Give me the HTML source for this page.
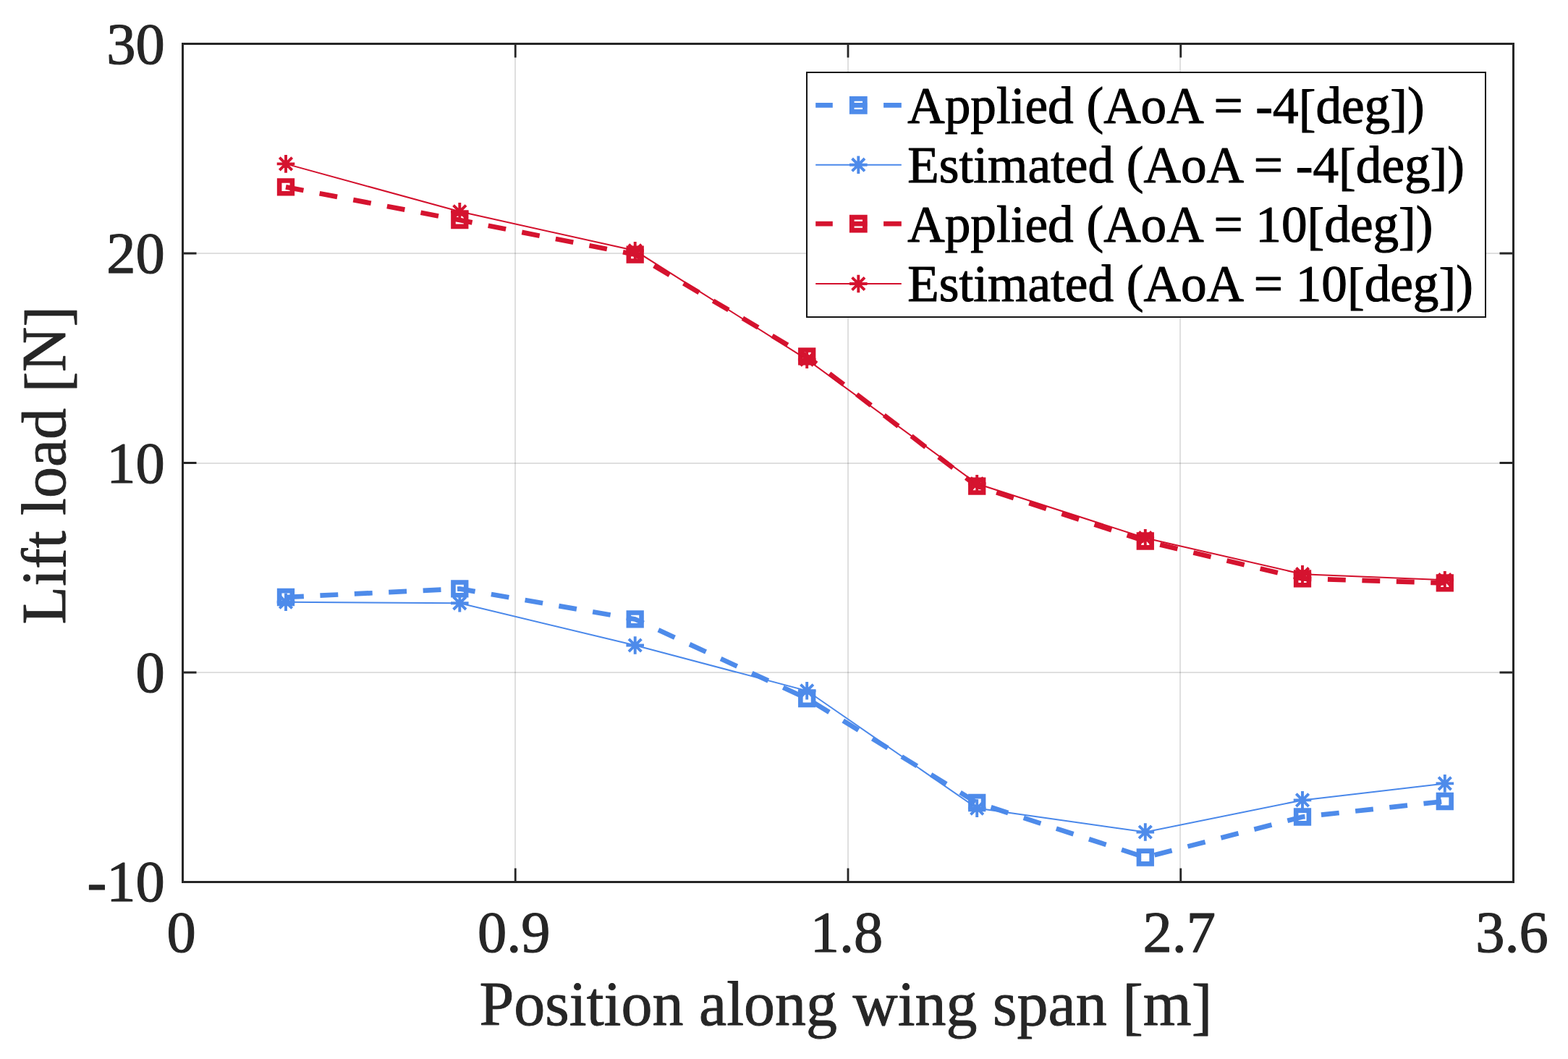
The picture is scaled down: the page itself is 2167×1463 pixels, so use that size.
<!DOCTYPE html><html><head><meta charset="utf-8"><title>Lift load</title><style>html,body{margin:0;padding:0;background:#fff;width:2167px;height:1463px;overflow:hidden;}svg{display:block;}text{font-family:'Liberation Serif','Times New Roman',serif;stroke-linejoin:round;}</style></head><body>
<svg width="2167" height="1463" viewBox="0 0 2167 1463">
<rect width="2167" height="1463" fill="#fff"/>
<path d="M712.00 60.50V1218.50M1172.00 60.50V1218.50M1631.00 60.50V1218.50" stroke="#262626" stroke-opacity="0.15" stroke-width="2" fill="none"/>
<path d="M252.50 929.00H2091.50M252.50 640.00H2091.50M252.50 350.00H2091.50" stroke="#262626" stroke-opacity="0.15" stroke-width="2" fill="none"/>
<path d="M252.50 1218.50V1199.50M252.50 60.50V79.50M712.25 1218.50V1199.50M712.25 60.50V79.50M1172.00 1218.50V1199.50M1172.00 60.50V79.50M1631.75 1218.50V1199.50M1631.75 60.50V79.50M2091.50 1218.50V1199.50M2091.50 60.50V79.50M252.50 1218.50H271.50M2091.50 1218.50H2072.50M252.50 929.00H271.50M2091.50 929.00H2072.50M252.50 639.50H271.50M2091.50 639.50H2072.50M252.50 350.00H271.50M2091.50 350.00H2072.50M252.50 60.50H271.50M2091.50 60.50H2072.50" stroke="#262626" stroke-width="2.8" fill="none"/>
<g clip-path="url(#clip)">
<defs><clipPath id="clip"><rect x="252.50" y="60.50" width="1839.00" height="1158.00"/></clipPath></defs>
<polyline points="395.00,825.00 635.30,813.40 877.70,855.40 1115.20,965.00 1350.20,1109.00 1582.80,1184.50 1800.00,1128.50 1996.80,1107.00" stroke="#4E8BEA" stroke-width="6.7" fill="none" stroke-dasharray="24.9 22.56"/>
<path d="M386.15 816.15h17.7v17.7h-17.7zM626.45 804.55h17.7v17.7h-17.7zM868.85 846.55h17.7v17.7h-17.7zM1106.35 956.15h17.7v17.7h-17.7zM1341.35 1100.15h17.7v17.7h-17.7zM1573.95 1175.65h17.7v17.7h-17.7zM1791.15 1119.65h17.7v17.7h-17.7zM1987.95 1098.15h17.7v17.7h-17.7z" stroke="#4E8BEA" stroke-width="6.6" fill="none" stroke-linejoin="miter"/>
<polyline points="395.00,831.70 635.30,833.30 877.70,891.50 1115.20,954.30 1350.20,1116.60 1582.80,1149.50 1800.00,1105.40 1996.80,1082.40" stroke="#4A88EA" stroke-width="2" fill="none"/>
<path d="M382.70 831.70H407.30M395.00 819.40V844.00M386.30 823.00L403.70 840.40M386.30 840.40L403.70 823.00M623.00 833.30H647.60M635.30 821.00V845.60M626.60 824.60L644.00 842.00M626.60 842.00L644.00 824.60M865.40 891.50H890.00M877.70 879.20V903.80M869.00 882.80L886.40 900.20M869.00 900.20L886.40 882.80M1102.90 954.30H1127.50M1115.20 942.00V966.60M1106.50 945.60L1123.90 963.00M1106.50 963.00L1123.90 945.60M1337.90 1116.60H1362.50M1350.20 1104.30V1128.90M1341.50 1107.90L1358.90 1125.30M1341.50 1125.30L1358.90 1107.90M1570.50 1149.50H1595.10M1582.80 1137.20V1161.80M1574.10 1140.80L1591.50 1158.20M1574.10 1158.20L1591.50 1140.80M1787.70 1105.40H1812.30M1800.00 1093.10V1117.70M1791.30 1096.70L1808.70 1114.10M1791.30 1114.10L1808.70 1096.70M1984.50 1082.40H2009.10M1996.80 1070.10V1094.70M1988.10 1073.70L2005.50 1091.10M1988.10 1091.10L2005.50 1073.70" stroke="#4E8BEA" stroke-width="3.9" fill="none"/>
<polyline points="395.00,258.40 635.30,304.00 877.70,351.60 1115.20,492.40 1350.20,671.60 1582.80,747.50 1800.00,799.40 1996.80,805.40" stroke="#D5132F" stroke-width="6.7" fill="none" stroke-dasharray="24.9 22.56"/>
<path d="M386.15 249.55h17.7v17.7h-17.7zM626.45 295.15h17.7v17.7h-17.7zM868.85 342.75h17.7v17.7h-17.7zM1106.35 483.55h17.7v17.7h-17.7zM1341.35 662.75h17.7v17.7h-17.7zM1573.95 738.65h17.7v17.7h-17.7zM1791.15 790.55h17.7v17.7h-17.7zM1987.95 796.55h17.7v17.7h-17.7z" stroke="#D5132F" stroke-width="6.6" fill="none" stroke-linejoin="miter"/>
<polyline points="395.00,226.40 635.30,292.30 877.70,346.30 1115.20,496.60 1350.20,668.30 1582.80,743.20 1800.00,793.20 1996.80,801.20" stroke="#D3102C" stroke-width="2" fill="none"/>
<path d="M382.70 226.40H407.30M395.00 214.10V238.70M386.30 217.70L403.70 235.10M386.30 235.10L403.70 217.70M623.00 292.30H647.60M635.30 280.00V304.60M626.60 283.60L644.00 301.00M626.60 301.00L644.00 283.60M865.40 346.30H890.00M877.70 334.00V358.60M869.00 337.60L886.40 355.00M869.00 355.00L886.40 337.60M1102.90 496.60H1127.50M1115.20 484.30V508.90M1106.50 487.90L1123.90 505.30M1106.50 505.30L1123.90 487.90M1337.90 668.30H1362.50M1350.20 656.00V680.60M1341.50 659.60L1358.90 677.00M1341.50 677.00L1358.90 659.60M1570.50 743.20H1595.10M1582.80 730.90V755.50M1574.10 734.50L1591.50 751.90M1574.10 751.90L1591.50 734.50M1787.70 793.20H1812.30M1800.00 780.90V805.50M1791.30 784.50L1808.70 801.90M1791.30 801.90L1808.70 784.50M1984.50 801.20H2009.10M1996.80 788.90V813.50M1988.10 792.50L2005.50 809.90M1988.10 809.90L2005.50 792.50" stroke="#D5132F" stroke-width="3.9" fill="none"/>
</g>
<rect x="252.50" y="60.50" width="1839.00" height="1158.00" stroke="#262626" stroke-width="3" fill="none"/>
<text x="227.8" y="1244.50" font-size="80.5" fill="#262626" stroke="#262626" stroke-width="1.2" text-anchor="end">-10</text>
<text x="227.8" y="956.00" font-size="80.5" fill="#262626" stroke="#262626" stroke-width="1.2" text-anchor="end">0</text>
<text x="227.8" y="666.50" font-size="80.5" fill="#262626" stroke="#262626" stroke-width="1.2" text-anchor="end">10</text>
<text x="227.8" y="377.00" font-size="80.5" fill="#262626" stroke="#262626" stroke-width="1.2" text-anchor="end">20</text>
<text x="227.8" y="87.50" font-size="80.5" fill="#262626" stroke="#262626" stroke-width="1.2" text-anchor="end">30</text>
<text x="250.50" y="1314.6" font-size="80.5" fill="#262626" stroke="#262626" stroke-width="1.2" text-anchor="middle">0</text>
<text x="710.25" y="1314.6" font-size="80.5" fill="#262626" stroke="#262626" stroke-width="1.2" text-anchor="middle">0.9</text>
<text x="1170.00" y="1314.6" font-size="80.5" fill="#262626" stroke="#262626" stroke-width="1.2" text-anchor="middle">1.8</text>
<text x="1629.75" y="1314.6" font-size="80.5" fill="#262626" stroke="#262626" stroke-width="1.2" text-anchor="middle">2.7</text>
<text x="2089.50" y="1314.6" font-size="80.5" fill="#262626" stroke="#262626" stroke-width="1.2" text-anchor="middle">3.6</text>
<text x="662.5" y="1415.8" font-size="86.0" fill="#262626" stroke="#262626" stroke-width="0.9">Position along wing span <tspan dy="3.40">[</tspan><tspan dy="-3.40">m</tspan><tspan dy="3.40">]</tspan><tspan dy="-3.40"></tspan></text>
<text transform="translate(90.1 862.4) rotate(-90)" font-size="86.0" fill="#262626" stroke="#262626" stroke-width="0.9">Lift load <tspan dy="3.80">[</tspan><tspan dy="-3.80">N</tspan><tspan dy="3.80">]</tspan><tspan dy="-3.80"></tspan></text>
<rect x="1115.00" y="100.00" width="938.00" height="338.00" fill="#fff" stroke="#141414" stroke-width="2"/>
<path d="M1127.2 145.40H1150.8M1221.1 145.40H1245.8M1174.30 145.40H1198.30" stroke="#4E8BEA" stroke-width="6.9" fill="none"/>
<path d="M1177.25 136.35h18.1v18.1h-18.1z" stroke="#4E8BEA" stroke-width="6.7" fill="none"/>
<text x="1254.30" y="170.30" font-size="71.2" fill="#000" stroke="#000" stroke-width="1.1">Applied (AoA = -4<tspan dy="2.60">[</tspan><tspan dy="-2.60">deg</tspan><tspan dy="2.60">]</tspan><tspan dy="-2.60">)</tspan></text>
<path d="M1127.2 227.70H1245.8" stroke="#4A88EA" stroke-width="2" fill="none"/>
<path d="M1174.00 227.70H1198.60M1186.30 215.40V240.00M1177.60 219.00L1195.00 236.40M1177.60 236.40L1195.00 219.00" stroke="#4E8BEA" stroke-width="3.9" fill="none"/>
<text x="1254.35" y="251.50" font-size="71.2" fill="#000" stroke="#000" stroke-width="1.1">Estimated (AoA = -4<tspan dy="2.60">[</tspan><tspan dy="-2.60">deg</tspan><tspan dy="2.60">]</tspan><tspan dy="-2.60">)</tspan></text>
<path d="M1127.2 309.10H1150.8M1221.1 309.10H1245.8M1174.30 309.10H1198.30" stroke="#D5132F" stroke-width="6.9" fill="none"/>
<path d="M1177.25 300.05h18.1v18.1h-18.1z" stroke="#D5132F" stroke-width="6.7" fill="none"/>
<text x="1254.30" y="333.80" font-size="71.2" fill="#000" stroke="#000" stroke-width="1.1">Applied (AoA = 10<tspan dy="2.60">[</tspan><tspan dy="-2.60">deg</tspan><tspan dy="2.60">]</tspan><tspan dy="-2.60">)</tspan></text>
<path d="M1127.2 392.00H1245.8" stroke="#D3102C" stroke-width="2" fill="none"/>
<path d="M1174.00 392.00H1198.60M1186.30 379.70V404.30M1177.60 383.30L1195.00 400.70M1177.60 400.70L1195.00 383.30" stroke="#D5132F" stroke-width="3.9" fill="none"/>
<text x="1254.35" y="416.20" font-size="71.2" fill="#000" stroke="#000" stroke-width="1.1">Estimated (AoA = 10<tspan dy="2.60">[</tspan><tspan dy="-2.60">deg</tspan><tspan dy="2.60">]</tspan><tspan dy="-2.60">)</tspan></text>
</svg></body></html>
